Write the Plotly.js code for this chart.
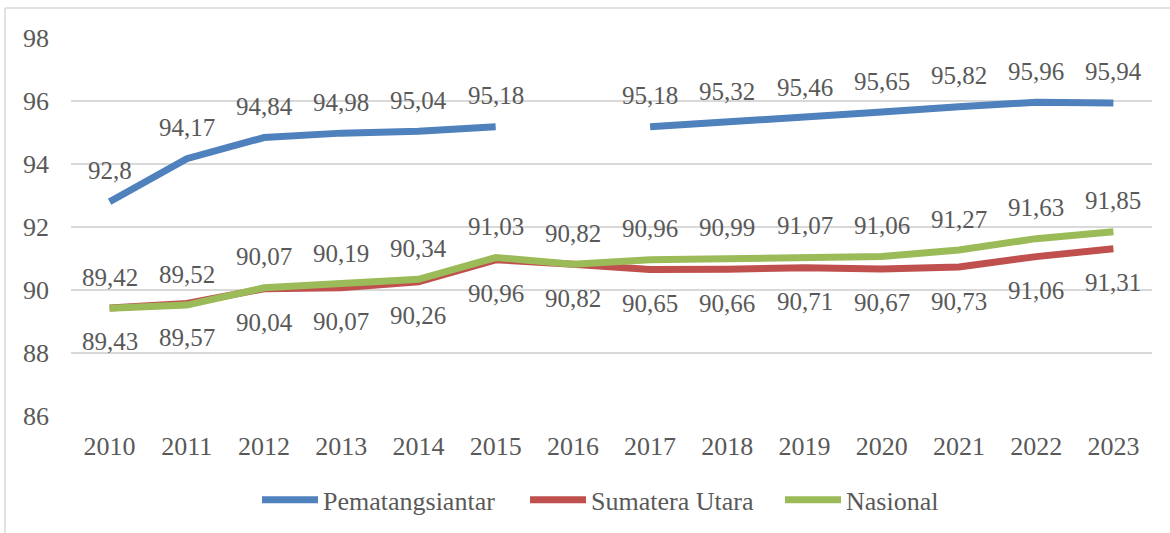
<!DOCTYPE html>
<html><head><meta charset="utf-8">
<script src="https://cdn.plot.ly/plotly-3.0.1.min.js"></script>
<style>html,body{margin:0;padding:0;background:#fff}#chart{width:1170px;height:533px}</style>
</head><body><div id="chart"></div>
<script>
const years = ['2010','2011','2012','2013','2014','2015','2016','2017','2018','2019','2020','2021','2022','2023'];
const pematangsiantar = [92.8, 94.17, 94.84, 94.98, 95.04, 95.18, null, 95.18, 95.32, 95.46, 95.65, 95.82, 95.96, 95.94];
const sumateraUtara = [89.43, 89.57, 90.04, 90.07, 90.26, 90.96, 90.82, 90.65, 90.66, 90.71, 90.67, 90.73, 91.06, 91.31];
const nasional = [89.42, 89.52, 90.07, 90.19, 90.34, 91.03, 90.82, 90.96, 90.99, 91.07, 91.06, 91.27, 91.63, 91.85];
const yTicks = [86, 88, 90, 92, 94, 96, 98];

const FONT = 'Liberation Serif, DejaVu Serif, serif';
const FS = 25;
const FT = 26;
const TXT = '#595959';
const fmt = v => String(v).replace('.', ',');

function line(name, y, color, legend) {
  return {type:'scatter', mode:'lines', name, x: years, y, connectgaps:false, legend,
    line:{color, width:7, shape:'linear'}, hoverinfo:'skip'};
}
const traces = [
  line('Pematangsiantar', pematangsiantar, '#4F81BD', 'legend'),
  line('Sumatera Utara', sumateraUtara, '#C0504D', 'legend2'),
  line('Nasional', nasional, '#9BBB59', 'legend3')
];

const annotations = [];
function addLabels(arr, shift) {
  arr.forEach((v, i) => {
    if (v === null) return;
    annotations.push({x: i, y: v, xref:'x', yref:'y', text: fmt(v), showarrow:false,
      yshift: shift, font:{family:FONT, size:FS, color:TXT}});
  });
}
addLabels(pematangsiantar, 31);
addLabels(nasional, 31);
addLabels(sumateraUtara, -34);

function leg(xpx) {
  return {orientation:'h', xref:'container', yref:'container', x:xpx/1170, xanchor:'left', y:0.062, yanchor:'middle',
    bgcolor:'rgba(0,0,0,0)', font:{family:FONT, size:FT, color:TXT}, itemwidth:56};
}

const layout = {
  width:1170, height:533,
  margin:{l:71, r:18, t:38, b:117},
  paper_bgcolor:'#fff', plot_bgcolor:'#fff',
  font:{family:FONT, size:FS, color:TXT},
  showlegend:true,
  legend: leg(257),
  legend2: leg(525),
  legend3: leg(780),
  xaxis:{type:'category', range:[-0.5, 13.5], showgrid:false, zeroline:false, showline:false,
    ticks:'', ticklabelstandoff:12, tickfont:{family:FONT, size:FT, color:TXT}, fixedrange:true},
  yaxis:{range:[86, 98], tickvals:yTicks, ticktext:yTicks.map(String), showgrid:true, gridcolor:'#d9d9d9', gridwidth:1.5,
    zeroline:false, showline:false, ticks:'', ticklabelstandoff:21, tickfont:{family:FONT, size:FT, color:TXT}, fixedrange:true},
  annotations,
  shapes:[
    {type:'line', xref:'paper', yref:'paper', x0:-0.0611, x1:1.02, y0:1.0794, y1:1.0794, line:{color:'#d9d9d9', width:1.5}},
    {type:'line', xref:'paper', yref:'paper', x0:-0.0611, x1:-0.0611, y0:1.0794, y1:-0.32, line:{color:'#d9d9d9', width:1.5}}
  ]
};
Plotly.newPlot('chart', traces, layout, {displayModeBar:false, staticPlot:true});
</script>
</body></html>
